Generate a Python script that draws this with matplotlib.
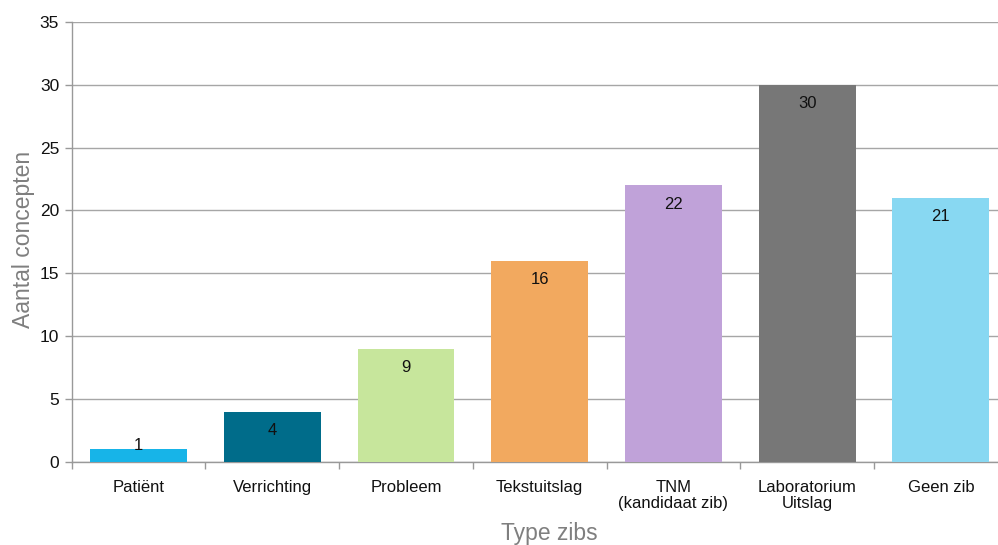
import numpy as np
import matplotlib.pyplot as plt

# Aantal concepten per type zib
categories = ['Patiënt', 'Verrichting', 'Probleem', 'Tekstuitslag',
              'TNM\n(kandidaat zib)', 'Laboratorium\nUitslag', 'Geen zib']
counts = [1, 4, 9, 16, 22, 30, 21]
colors = ['#17b4e8', '#006c8a', '#c7e69c', '#f2a95f',
          '#c0a2d9', '#777777', '#88d8f2']

plt.rcParams['font.family'] = ['Liberation Sans', 'DejaVu Sans']

fig = plt.figure(figsize=(9.98, 5.45), dpi=100)
# plot area runs a little past the right edge of the figure
ax = fig.add_axes([0.0718, 0.1527, 0.938, 0.807])

x = np.arange(len(categories))
bars = ax.bar(x, counts, width=0.725, color=colors, zorder=3)

# labels just inside the top of each bar
for xi, v in zip(x, counts):
    y = v - 1.5 if v > 3 else v + 0.3
    ax.text(xi, y, str(v), ha='center', va='center', fontsize=12,
            color='#111111', zorder=4)

ax.set_xlim(-0.5, len(categories) - 0.5)
ax.set_ylim(0, 35)
ax.set_yticks(range(0, 36, 5))
ax.yaxis.grid(True, color='#a6a6a6', linewidth=1.0)
ax.set_axisbelow(True)

ax.set_xticks(x)
ax.set_xticklabels(categories, fontsize=12, color='#111111', linespacing=1.1)
ax.set_xticks(np.arange(-0.5, len(categories) - 0.4, 1), minor=True)
ax.tick_params(axis='x', which='major', length=0, pad=13)
ax.tick_params(axis='x', which='minor', length=5, color='#999999', width=1)
ax.tick_params(axis='y', length=5, color='#999999', width=1,
               labelsize=12.5, labelcolor='#111111', pad=4)

for side in ['top', 'right']:
    ax.spines[side].set_visible(False)
for side in ['left', 'bottom']:
    ax.spines[side].set_color('#999999')
    ax.spines[side].set_linewidth(1.0)

ax.set_xlabel('Type zibs', fontsize=16.5, color='#7f7f7f')
ax.xaxis.set_label_coords(0.51, -0.136)
ax.set_ylabel('Aantal concepten', fontsize=16.5, color='#7f7f7f')
ax.yaxis.set_label_coords(-0.039, 0.505)

fig.savefig('out.png', dpi=100)
